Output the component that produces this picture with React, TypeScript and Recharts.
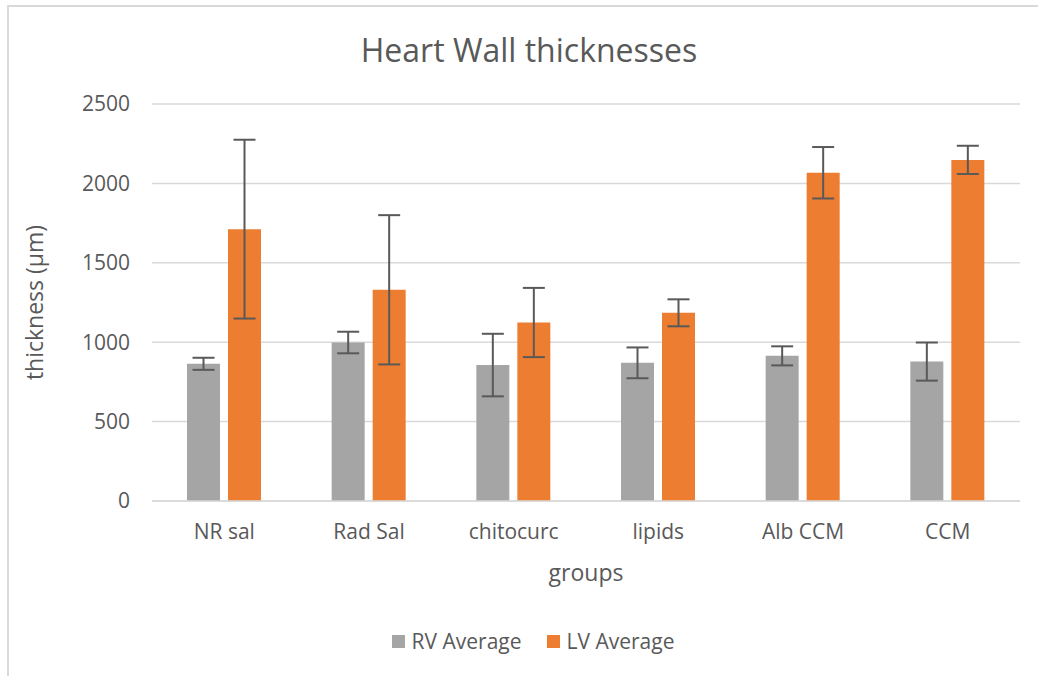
import { BarChart, Bar, XAxis, YAxis, CartesianGrid, ErrorBar } from 'recharts';

const groups = ['NR sal', 'Rad Sal', 'chitocurc', 'lipids', 'Alb CCM', 'CCM'];
const rvAverage = [864, 998, 856, 870, 914, 878];
const rvError = [38, 68, 197, 97, 60, 120];
const lvAverage = [1712, 1330, 1124, 1185, 2067, 2148];
const lvError = [563, 470, 218, 85, 162, 89];
const yTicks = [0, 500, 1000, 1500, 2000, 2500];

const FONT = '"Open Sans", sans-serif';
const TEXT = '#595959';

const data = groups.map((g, i) => ({
  name: g,
  rv: rvAverage[i],
  rvErr: rvError[i],
  lv: lvAverage[i],
  lvErr: lvError[i],
}));

const LegendItem = ({ color, label }: { color: string; label: string }) => (
  <div style={{ display: 'flex', alignItems: 'center', gap: 7 }}>
    <div style={{ width: 13, height: 13, background: color }} />
    <span>{label}</span>
  </div>
);

const App = () => {
  return (
    <div style={{ position: 'absolute', left: 0, top: 0, width: 1038, height: 676, background: '#fff', fontFamily: FONT, color: TEXT, overflow: 'hidden' }}>
      <div style={{ position: 'absolute', left: 7, top: 5, width: 1040, height: 680, borderLeft: '2px solid #d9d9d9', borderTop: '2px solid #d9d9d9' }} />
      <div style={{ position: 'absolute', left: 0, top: 26, width: 1058, textAlign: 'center', fontSize: 32, lineHeight: '48px' }}>
        Heart Wall thicknesses
      </div>
      <BarChart
        width={1038}
        height={676}
        data={data}
        margin={{ top: 104, right: 18, left: 0, bottom: 90 }}
        barSize={33}
        barGap={8}
      >
        <CartesianGrid vertical={false} stroke="#d9d9d9" strokeWidth={1.5} />
        <XAxis
          dataKey="name"
          height={85}
          axisLine={{ stroke: '#d9d9d9', strokeWidth: 1.5 }}
          tickLine={false}
          tickMargin={17}
          tick={{ fill: TEXT, fontSize: 21, fontFamily: FONT }}
          label={{ value: 'groups', position: 'insideBottom', offset: 5, fill: TEXT, fontSize: 23, fontFamily: FONT }}
        />
        <YAxis
          width={152}
          domain={[0, 2500]}
          ticks={yTicks}
          axisLine={false}
          tickLine={false}
          tickMargin={16}
          tick={{ fill: TEXT, fontSize: 21, fontFamily: FONT }}
          label={{ value: 'thickness (µm)', angle: -90, position: 'insideLeft', offset: 35, fill: TEXT, fontSize: 23, fontFamily: FONT, style: { textAnchor: 'middle' } }}
        />
        <Bar dataKey="rv" fill="#A5A5A5" isAnimationActive={false}>
          <ErrorBar dataKey="rvErr" width={11} stroke="#595959" strokeWidth={2} direction="y" />
        </Bar>
        <Bar dataKey="lv" fill="#ED7D31" isAnimationActive={false}>
          <ErrorBar dataKey="lvErr" width={11} stroke="#595959" strokeWidth={2} direction="y" />
        </Bar>
      </BarChart>
      <div style={{ position: 'absolute', left: 0, top: 626, width: 1066, display: 'flex', justifyContent: 'center', gap: 25, fontSize: 21, lineHeight: '30px' }}>
        <LegendItem color="#A5A5A5" label="RV Average" />
        <LegendItem color="#ED7D31" label="LV Average" />
      </div>
    </div>
  );
};

export default App;
